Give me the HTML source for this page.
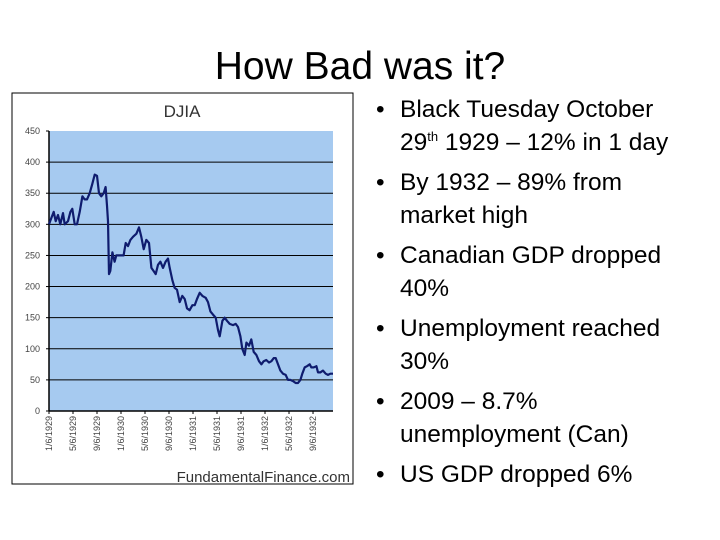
<!DOCTYPE html>
<html><head><meta charset="utf-8"><style>
body{margin:0;width:720px;height:540px;background:#fff;overflow:hidden;position:relative;font-family:"Liberation Sans",sans-serif}
#title{position:absolute;left:0;width:720px;top:45px;text-align:center;font-size:39px;color:#000}
ul{position:absolute;left:376px;top:93px;margin:0;padding:0;list-style:none;font-size:24.5px;line-height:33px;color:#000;white-space:nowrap}
li{position:relative;padding-left:24px;margin-bottom:7px}
li:before{content:"•";position:absolute;left:0}
sup{font-size:13px;line-height:0}
</style></head><body>
<div id="title">How Bad was it?</div>
<svg id="chart" width="360" height="500" style="position:absolute;left:0;top:0" font-family="Liberation Sans, sans-serif"></svg>
<ul>
<li>Black Tuesday October<br>29<sup>th</sup> 1929 – 12% in 1 day</li>
<li>By 1932 – 89% from<br>market high</li>
<li>Canadian GDP dropped<br>40%</li>
<li>Unemployment reached<br>30%</li>
<li>2009 – 8.7%<br>unemployment (Can)</li>
<li>US GDP dropped 6%</li>
</ul>
<script>
const months=[0,.39,.78,1.11,1.5,1.89,2.33,2.61,3.17,3.56,3.89,4.28,4.67,5.11,5.56,5.94,6.33,6.78,7.22,7.61,8,8.33,8.72,9.11,9.44,9.67,9.83,10,10.22,10.56,10.94,11.22,11.78,12.44,12.78,13.17,13.56,14,14.56,15,15.39,15.78,16.22,16.67,17.06,17.44,17.78,18.17,18.56,19,19.44,19.83,20.11,20.56,20.94,21.33,21.78,22.22,22.61,23,23.44,23.89,24.28,24.67,25.11,25.56,26.11,26.5,26.89,27.33,27.78,28.17,28.44,28.89,29.28,29.67,30.11,30.67,31.11,31.5,31.89,32.22,32.61,32.89,33.33,33.72,34.11,34.56,35,35.39,35.78,36.22,36.67,37.06,37.44,37.78,38.17,38.56,39,39.44,39.83,40.22,40.67,41.11,41.5,41.89,42.22,42.61,43,43.44,43.72,44.11,44.56,44.83,45.22,45.67,46.11,46.5,46.89,47.33];
const values=[300,310,320,305,315,300,318,300,305,320,325,300,300,320,345,340,340,350,365,380,378,350,345,350,360,330,305,220,225,255,240,250,250,250,270,265,275,280,285,295,280,260,275,270,230,225,220,235,240,230,240,245,230,210,198,195,175,185,180,165,162,170,170,180,190,185,182,175,160,155,150,130,120,145,150,145,140,138,140,135,120,100,90,110,105,115,95,90,80,75,80,82,78,80,85,85,75,65,60,58,50,50,48,45,45,50,60,70,72,75,70,70,72,62,62,65,60,58,60,60];
const yTicks=[0,50,100,150,200,250,300,350,400,450];
const xLabels=["1/6/1929","5/6/1929","9/6/1929","1/6/1930","5/6/1930","9/6/1930","1/6/1931","5/6/1931","9/6/1931","1/6/1932","5/6/1932","9/6/1932"];
const xLabelMonths=[0,4,8,12,16,20,24,28,32,36,40,44];
const NS="http://www.w3.org/2000/svg",svg=document.getElementById('chart');
const L=49,R=333,T=131,B=411,maxM=47.33,maxV=450;
const xs=m=>L+m/maxM*(R-L), ys=v=>B-v/maxV*(B-T);
function mk(t,a){const e=document.createElementNS(NS,t);for(const k in a)e.setAttribute(k,a[k]);svg.appendChild(e);return e;}
let e=mk('rect',{x:12,y:93,width:341,height:391,fill:'#fff',stroke:'#000','stroke-width':1});

e=mk('text',{x:182,y:117,'font-size':17,'text-anchor':'middle',fill:'#333'});e.textContent='DJIA';

e=mk('rect',{x:L,y:T,width:R-L,height:B-T,fill:'#a6caf0'});

yTicks.forEach(v=>{
 if(v>0&&v<450){const g=mk('line',{x1:L,x2:R,y1:ys(v),y2:ys(v),stroke:'#000','stroke-width':1});
 }
 const t=mk('text',{x:L-9,y:ys(v)+3,'font-size':9,'text-anchor':'end',fill:'#444'});t.textContent=v;
 
 mk('line',{x1:L-3,x2:L,y1:ys(v),y2:ys(v),stroke:'#000'});
});
mk('line',{x1:L,x2:L,y1:T,y2:B,stroke:'#000','stroke-width':1.5});
mk('line',{x1:L,x2:R,y1:B,y2:B,stroke:'#000','stroke-width':1.5});
xLabels.forEach((s,i)=>{const x=xs(xLabelMonths[i]);
 mk('line',{x1:x,x2:x,y1:B,y2:B+3,stroke:'#000'});
 const t=mk('text',{x:0,y:0,'font-size':9,'text-anchor':'end',fill:'#444',transform:`translate(${x+3},${B+5}) rotate(-90)`});t.textContent=s;
 });
const pts=months.map((m,i)=>xs(m).toFixed(1)+','+ys(values[i]).toFixed(1)).join(' ');
e=mk('polyline',{points:pts,fill:'none',stroke:'#0f1c6e','stroke-width':2.2,'stroke-linejoin':'round'});

e=mk('text',{x:350,y:482,'font-size':15,'text-anchor':'end',fill:'#333'});e.textContent='FundamentalFinance.com';

</script>
</body></html>
